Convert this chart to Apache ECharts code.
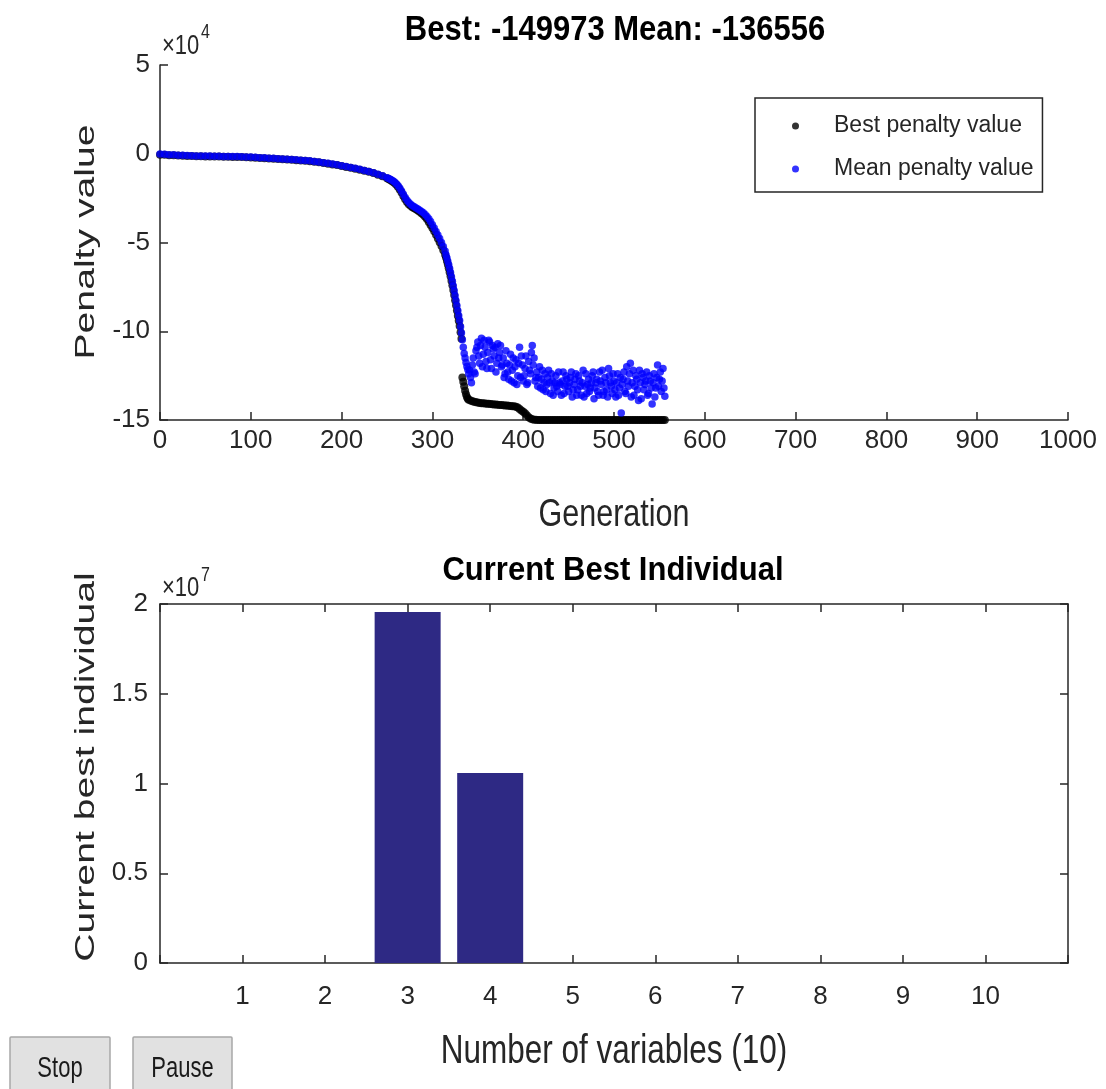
<!DOCTYPE html>
<html>
<head>
<meta charset="utf-8">
<title>GA progress</title>
<script src="https://cdn.jsdelivr.net/npm/echarts@6/dist/echarts.min.js"></script>
<style>
  html, body { margin: 0; padding: 0; background: #ffffff; }
  #chart { width: 1106px; height: 1089px; }
</style>
</head>
<body>
<div id="chart"></div>
<script>
// Generations at which the best penalty value was recorded
const bestGeneration = [
  0, 5, 10, 15, 20, 25, 30, 35, 40, 45, 50, 55, 60, 65, 70, 75, 80, 85, 90, 95,
  100, 105, 110, 115, 120, 125, 130, 135, 140, 145, 150, 155, 160, 165, 170, 175, 180, 185, 190, 195,
  200, 205, 210, 215, 220, 225, 230, 235, 240, 245, 250,
  252, 254, 256, 258, 260, 262, 264, 266, 268, 270, 272, 274, 276, 278, 280, 282, 284, 286, 288, 290,
  292, 294, 296, 298, 300, 302, 304, 306, 308, 310, 312, 314,
  315, 316, 317, 318, 319, 320, 321, 322, 323, 324, 325, 326, 327, 328, 329, 330, 331, 332, 333, 334,
  335, 336, 337, 338, 339, 340,
  342, 344, 346, 348, 350, 352, 354, 356, 358, 360, 362, 364, 366, 368, 370, 372, 374, 376, 378, 380,
  382, 384, 386, 388, 390, 392, 394, 396, 398, 400, 402, 404, 406, 408, 410, 412, 414, 416, 418, 420,
  422, 424, 426, 428, 430, 432, 434, 436, 438, 440, 442, 444, 446, 448, 450, 452, 454, 456, 458, 460,
  462, 464, 466, 468, 470, 472, 474, 476, 478, 480, 482, 484, 486, 488, 490, 492, 494, 496, 498, 500,
  502, 504, 506, 508, 510, 512, 514, 516, 518, 520, 522, 524, 526, 528, 530, 532, 534, 536, 538, 540,
  542, 544, 546, 548, 550, 552, 554, 556
];

// Best penalty value of each recorded generation
const bestPenalty = [
  -500, -600, -800, -900, -1000, -1100, -1200, -1300, -1400, -1400,
  -1500, -1500, -1600, -1600, -1700, -1700, -1800, -1800, -1900, -2000,
  -2100, -2200, -2400, -2500, -2700, -2800, -3000, -3100, -3300, -3400,
  -3600, -3800, -4000, -4200, -4500, -4800, -5200, -5600, -6000, -6400,
  -6900, -7400, -7900, -8400, -9000, -9600, -10200, -10900, -11800, -12700,
  -13800,
  -14400, -14900, -15600, -16300, -17300, -18600, -20100, -21900, -23800, -25600,
  -27200, -28400, -29300, -30100, -30700, -31300, -32000, -32700, -33500, -34400,
  -35500, -36800, -38400, -40100, -41800, -43700, -45700, -47700, -49800, -52000,
  -54400, -56900,
  -58500, -60400, -62400, -64500, -66700, -69000, -71500, -74100, -76800, -79600,
  -82500, -85400, -88300, -91200, -94100, -97000, -100500, -104200, -126000, -128500,
  -131000, -133500, -135500, -137000, -138000, -138600,
  -139000, -139400, -139700, -140000, -140200, -140400, -140500, -140600, -140700, -140800,
  -140900, -141000, -141100, -141200, -141300, -141400, -141500, -141600, -141700, -141800,
  -141900, -142000, -142100, -142200, -142300, -142500, -143000, -143800, -144600, -145300,
  -146200, -147300, -148400, -149200, -149600, -149800, -149900, -149930, -149950, -149973,
  -149973, -149973, -149973, -149973, -149973, -149973, -149973, -149973, -149973, -149973,
  -149973, -149973, -149973, -149973, -149973, -149973, -149973, -149973, -149973, -149973,
  -149973, -149973, -149973, -149973, -149973, -149973, -149973, -149973, -149973, -149973,
  -149973, -149973, -149973, -149973, -149973, -149973, -149973, -149973, -149973, -149973,
  -149973, -149973, -149973, -149973, -149973, -149973, -149973, -149973, -149973, -149973,
  -149973, -149973, -149973, -149973, -149973, -149973, -149973, -149973, -149973, -149973,
  -149973, -149973, -149973, -149973, -149973, -149973, -149973, -149973
];

// Generations at which the population mean was recorded
const meanGeneration = [
  0, 5, 10, 15, 20, 25, 30, 35, 40, 45, 50, 55, 60, 65, 70, 75, 80, 85, 90, 95,
  100, 105, 110, 115, 120, 125, 130, 135, 140, 145, 150, 155, 160, 165, 170, 175, 180, 185, 190, 195,
  200, 205, 210, 215, 220, 225, 230, 235, 240, 245, 250,
  252, 254, 256, 258, 260, 262, 264, 266, 268, 270, 272, 274, 276, 278, 280, 282, 284, 286, 288, 290,
  292, 294, 296, 298, 300, 302, 304, 306, 308, 310, 312, 314,
  315, 316, 317, 318, 319, 320, 321, 322, 323, 324, 325, 326, 327, 328, 329, 330, 331, 332, 333, 334,
  335, 336, 337, 338, 339, 340,
  341, 342, 343, 344, 345, 346, 347, 348, 349, 350,
  351, 352, 353, 354, 355, 356, 357, 358, 359, 360,
  361, 362, 363, 364, 365, 366, 367, 368, 369, 370,
  371, 372, 373, 374, 375, 376, 377, 378, 379, 380,
  381, 382, 383, 384, 385, 386, 387, 388, 389, 390,
  391, 392, 393, 394, 395, 396, 397, 398, 399, 400,
  401, 402, 403, 404, 405, 406, 407, 408, 409, 410,
  411, 412, 413, 414, 415, 416, 417, 418, 419, 420,
  421, 422, 423, 424, 425, 426, 427, 428, 429, 430,
  431, 432, 433, 434, 435, 436, 437, 438, 439, 440,
  441, 442, 443, 444, 445, 446, 447, 448, 449, 450,
  451, 452, 453, 454, 455, 456, 457, 458, 459, 460,
  461, 462, 463, 464, 465, 466, 467, 468, 469, 470,
  471, 472, 473, 474, 475, 476, 477, 478, 479, 480,
  481, 482, 483, 484, 485, 486, 487, 488, 489, 490,
  491, 492, 493, 494, 495, 496, 497, 498, 499, 500,
  501, 502, 503, 504, 505, 506, 507, 508, 509, 510,
  511, 512, 513, 514, 515, 516, 517, 518, 519, 520,
  521, 522, 523, 524, 525, 526, 527, 528, 529, 530,
  531, 532, 533, 534, 535, 536, 537, 538, 539, 540,
  541, 542, 543, 544, 545, 546, 547, 548, 549, 550,
  551, 552, 553, 554, 555, 556
];

// Mean penalty value of the population at each recorded generation
const meanPenalty = [
  -200, -300, -500, -600, -800, -900, -1000, -1100, -1200, -1200,
  -1300, -1300, -1400, -1400, -1500, -1500, -1600, -1600, -1700, -1800,
  -1900, -2000, -2200, -2300, -2500, -2600, -2800, -2900, -3100, -3200,
  -3400, -3600, -3800, -4000, -4300, -4600, -5000, -5400, -5800, -6200,
  -6700, -7200, -7700, -8200, -8800, -9400, -10000, -10700, -11500, -12400,
  -13500,
  -14000, -14500, -15100, -15800, -16700, -17900, -19300, -21000, -22800, -24600,
  -26200, -27500, -28500, -29300, -29900, -30500, -31100, -31800, -32500, -33300,
  -34200, -35300, -36600, -38100, -40000, -41800, -43800, -45800, -47800, -50000,
  -52200, -54800,
  -57000, -58800, -60700, -62700, -64800, -67000, -69400, -71900, -74500, -77200,
  -80000, -82800, -85600, -88400, -91200, -94000, -97500, -101000, -104800, -109000,
  -112500, -115000, -117600, -119800, -121500, -124000,
  -122000, -126000, -129000, -119000, -115000, -123000, -124000, -111000, -109000, -106000,
  -114000, -118000, -108000, -104000, -120000, -113000, -105000, -109000, -117000, -121000,
  -112000, -105000, -106000, -116000, -121000, -108000, -110000, -114000, -109000, -123000,
  -118000, -107000, -115000, -112000, -108000, -120000, -119000, -115000, -126000, -124000,
  -111000, -118000, -123000, -127000, -119000, -113000, -128000, -122000, -115000, -129000,
  -120000, -116000, -130000, -125000, -118000, -109000, -126000, -114000, -119000, -128000,
  -125000, -121000, -114000, -130000, -129000, -117000, -122000, -124000, -112000, -108000,
  -119000, -115000, -128000, -126000, -123000, -131000, -126000, -120000, -132000, -127000,
  -122000, -133000, -129000, -124000, -134000, -130000, -126000, -122000, -129000, -135000,
  -124000, -128000, -136000, -132000, -129000, -125000, -131000, -134000, -123000, -129000,
  -130000, -136000, -128000, -123000, -135000, -131000, -125000, -127000, -131000, -134000,
  -129000, -126000, -123000, -137000, -133000, -130000, -127000, -124000, -136000, -133000,
  -125000, -128000, -131000, -136000, -129000, -122000, -137000, -131000, -124000, -135000,
  -130000, -127000, -134000, -132000, -129000, -125000, -123000, -138000, -132000, -129000,
  -127000, -134000, -136000, -123000, -128000, -130000, -122000, -136000, -134000, -126000,
  -129000, -133000, -137000, -121000, -125000, -129000, -131000, -135000, -124000, -128000,
  -133000, -137000, -129000, -124000, -136000, -132000, -126000, -146000, -130000, -127000,
  -123000, -134000, -135000, -120000, -128000, -131000, -124000, -118000, -137000, -129000,
  -122000, -136000, -131000, -125000, -127000, -133000, -139000, -122000, -129000, -138000,
  -124000, -126000, -133000, -130000, -128000, -123000, -136000, -135000, -125000, -128000,
  -132000, -141000, -129000, -124000, -137000, -132000, -126000, -119000, -131000, -127000,
  -123000, -134000, -128000, -121000, -132000, -136556
];

// Current best individual: one value per decision variable
const variableIndex = [1, 2, 3, 4, 5, 6, 7, 8, 9, 10];
const bestIndividual = [0, 0, 19550000, 10580000, 0, 0, 0, 0, 0, 0];

const SANS = "'Liberation Sans',Arial,Helvetica,sans-serif";
const INK = '#262626';
const BAR = '#2e2984';

const finalBest = bestPenalty[bestPenalty.length - 1];
const finalMean = meanPenalty[meanPenalty.length - 1];
const headline = 'Best: ' + finalBest + ' Mean: ' + finalMean;

const pairs = (xs, ys) => xs.map((x, i) => [x, ys[i]]);

const axisLineStyle = { show: true, onZero: false, lineStyle: { color: INK, width: 1.5 } };
const tickStyle = { show: true, inside: true, length: 8, lineStyle: { color: INK, width: 1.5 } };
const tickLabel = (margin, formatter) => ({
  show: true, margin: margin, color: INK, fontFamily: SANS, fontSize: 26,
  formatter: formatter || (v => String(v))
});
const hiddenLabel = { show: false };

function text(str, x, y, o) {
  return Object.assign({
    type: 'text', x: x, y: y, silent: true,
    style: {
      text: str, fill: o.fill || INK, fontFamily: SANS, fontSize: o.size,
      fontWeight: o.weight || 'normal', textAlign: o.align || 'center', textVerticalAlign: 'middle',
      align: o.align || 'center', verticalAlign: 'middle'
    }
  }, o.transform || {});
}

function button(label, left, width) {
  return {
    type: 'group', silent: true,
    children: [
      { type: 'rect', shape: { x: left, y: 1037, width: width, height: 60, r: 1 },
        style: { fill: '#e1e1e1', stroke: '#a8a8a8', lineWidth: 1.5 } },
      text(label, left + width / 2, 1069, { size: 22, fill: '#1a1a1a', transform: { scaleY: 1.3 } })
    ]
  };
}

const chart = echarts.init(document.getElementById('chart'), null, { renderer: 'canvas' });

chart.setOption({
  animation: false,
  backgroundColor: '#ffffff',
  grid: [
    { left: 160, top: 65, width: 908, height: 355 },
    { left: 160, top: 604, width: 908, height: 359 }
  ],
  xAxis: [
    { gridIndex: 0, type: 'value', position: 'bottom', min: 0, max: 1000, interval: 100,
      axisLine: axisLineStyle, axisTick: tickStyle, splitLine: { show: false },
      axisLabel: tickLabel(8) },
    { gridIndex: 1, type: 'value', position: 'bottom', min: 0, max: 11, interval: 1,
      axisLine: axisLineStyle, axisTick: tickStyle, splitLine: { show: false },
      axisLabel: tickLabel(21, v => (v >= 1 && v <= 10) ? String(v) : '') },
    { gridIndex: 1, type: 'value', position: 'top', min: 0, max: 11, interval: 1,
      axisLine: axisLineStyle, axisTick: tickStyle, splitLine: { show: false },
      axisLabel: hiddenLabel }
  ],
  yAxis: [
    { gridIndex: 0, type: 'value', position: 'left', min: -150000, max: 50000, interval: 50000,
      axisLine: axisLineStyle, axisTick: tickStyle, splitLine: { show: false },
      axisLabel: tickLabel(10, v => String(v / 1e4)) },
    { gridIndex: 1, type: 'value', position: 'left', min: 0, max: 20000000, interval: 5000000,
      axisLine: axisLineStyle, axisTick: tickStyle, splitLine: { show: false },
      axisLabel: tickLabel(12, v => String(v / 1e7)) },
    { gridIndex: 1, type: 'value', position: 'right', min: 0, max: 20000000, interval: 5000000,
      axisLine: axisLineStyle, axisTick: tickStyle, splitLine: { show: false },
      axisLabel: hiddenLabel }
  ],
  legend: {
    orient: 'vertical', left: 755, top: 98,
    padding: [13, 9, 8, 37], itemGap: 13,
    itemWidth: 7, itemHeight: 7,
    borderColor: INK, borderWidth: 1.5, backgroundColor: '#ffffff',
    icon: 'circle', selectedMode: false,
    textStyle: { fontFamily: SANS, fontSize: 23, color: INK, lineHeight: 30, padding: [0, 0, 0, 30] },
    data: ['Best penalty value', 'Mean penalty value']
  },
  series: [
    { name: 'Best penalty value', type: 'scatter', xAxisIndex: 0, yAxisIndex: 0,
      symbol: 'circle', symbolSize: 8, itemStyle: { color: '#000000' }, z: 2,
      data: pairs(bestGeneration, bestPenalty) },
    { name: 'Mean penalty value', type: 'scatter', xAxisIndex: 0, yAxisIndex: 0,
      symbol: 'circle', symbolSize: 7.5, itemStyle: { color: '#0000ff' }, z: 3,
      data: pairs(meanGeneration, meanPenalty) },
    { name: 'Current best individual', type: 'bar', xAxisIndex: 1, yAxisIndex: 1,
      barWidth: 66, itemStyle: { color: BAR }, z: 2,
      data: pairs(variableIndex, bestIndividual) }
  ],
  graphic: [
    text(headline, 615, 30, { size: 31, weight: 'bold', fill: '#000000', transform: { scaleY: 1.12 } }),
    text('\u00d710', 162, 46, { size: 22, align: 'left', transform: { scaleY: 1.25 } }),
    text('4', 201, 32, { size: 16, align: 'left', transform: { scaleY: 1.25 } }),
    text('Penalty value', 87, 242, { size: 27, transform: { rotation: Math.PI / 2, scaleX: 1.45 } }),
    text('Generation', 614, 515, { size: 30.5, transform: { scaleY: 1.3 } }),

    text('Current Best Individual', 613, 571, { size: 31, weight: 'bold', fill: '#000000', transform: { scaleY: 1.08 } }),
    text('\u00d710', 162, 588, { size: 22, align: 'left', transform: { scaleY: 1.25 } }),
    text('7', 201, 575, { size: 16, align: 'left', transform: { scaleY: 1.25 } }),
    text('Current best individual', 87, 767, { size: 27, transform: { rotation: Math.PI / 2, scaleX: 1.45 } }),
    text('Number of variables (10)', 614, 1052, { size: 31.5, transform: { scaleY: 1.3 } }),

    button('Stop', 10, 100),
    button('Pause', 133, 99)
  ]
});
</script>
</body>
</html>
